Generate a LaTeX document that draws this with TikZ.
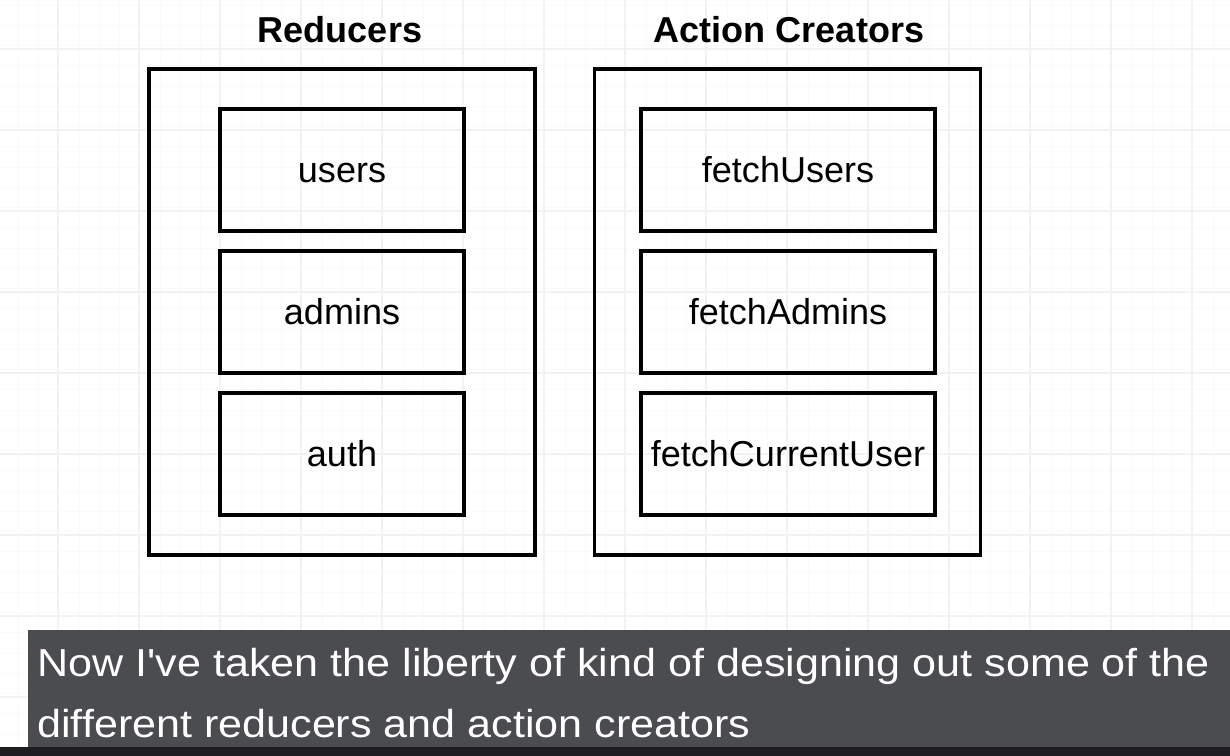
\documentclass[tikz,border=0pt]{standalone}
\usepackage{fontspec}
\setmainfont{Liberation Sans}
\usetikzlibrary{positioning}

\definecolor{gridmajor}{RGB}{242,242,242}
\definecolor{gridminor}{RGB}{250,250,250}
\definecolor{capbar}{RGB}{75,76,80}
\definecolor{dockbar}{RGB}{30,30,32}

\tikzset{
    outerbox/.style={draw, line width=2pt, minimum width=7.72cm, minimum height=9.72cm, inner sep=0pt},
    innerbox/.style={draw, line width=2pt, minimum height=2.44cm, inner sep=0pt,
        font=\fontsize{20.5}{24}\selectfont, text height=0.52cm, text depth=0cm},
    heading/.style={anchor=base, font=\fontsize{20.5}{24}\selectfont\bfseries},
    captext/.style={anchor=base west, text=white, inner sep=0pt, font=\fontsize{22.2}{26}\selectfont}
}

\begin{document}
\begin{tikzpicture}[x=0.02cm, y=-0.02cm]
    \useasboundingbox (0, 0) rectangle (1230, 756);
    \fill [white] (0, 0) rectangle (1230, 756);

    % faint background grid
    \foreach \gx in {0, 20.25, ..., 1230} {
        \draw [gridminor, line width=0.4pt] (\gx - 2, 0) -- (\gx - 2, 756);
    }
    \foreach \gy in {0, 20.25, ..., 756} {
        \draw [gridminor, line width=0.4pt] (0, \gy + 5) -- (1230, \gy + 5);
    }
    \foreach \gx in {58, 139, ..., 1230} {
        \draw [gridmajor, line width=0.6pt] (\gx, 0) -- (\gx, 756);
    }
    \foreach \gy in {49, 130, ..., 756} {
        \draw [gridmajor, line width=0.6pt] (0, \gy) -- (1230, \gy);
    }

    % reducers
    \node [heading] (Hred) at (340, 43) {Reducers};
    \node [outerbox] (Ored) at (342, 312) {};
    \node [innerbox, minimum width=4.88cm] (Rusers) at (342, 170) {users};
    \node [innerbox, minimum width=4.88cm] (Radmins) at (342, 312) {admins};
    \node [innerbox, minimum width=4.88cm] (Rauth) at (342, 454) {auth};

    % action creators
    \node [heading] (Hact) at (789, 43) {Action Creators};
    \node [outerbox] (Oact) at (787.5, 312) {};
    \node [innerbox, minimum width=5.88cm] (Afusers) at (788, 170) {fetchUsers};
    \node [innerbox, minimum width=5.88cm] (Afadmins) at (788, 312) {fetchAdmins};
    \node [innerbox, minimum width=5.88cm] (Afcurrent) at (788, 454) {fetchCurrentUser};

    % caption overlay
    \fill [dockbar] (0, 747) rectangle (1230, 756);
    \fill [capbar] (28, 630) rectangle (1230, 747);
    \node [captext] (Cone) at (37, 676) {\scalebox{1.105}[1]{Now I\textquotesingle ve taken the liberty of kind of designing out some of the}};
    \node [captext] (Ctwo) at (37, 737) {\scalebox{1.105}[1]{different reducers and action creators}};
\end{tikzpicture}
\end{document}
